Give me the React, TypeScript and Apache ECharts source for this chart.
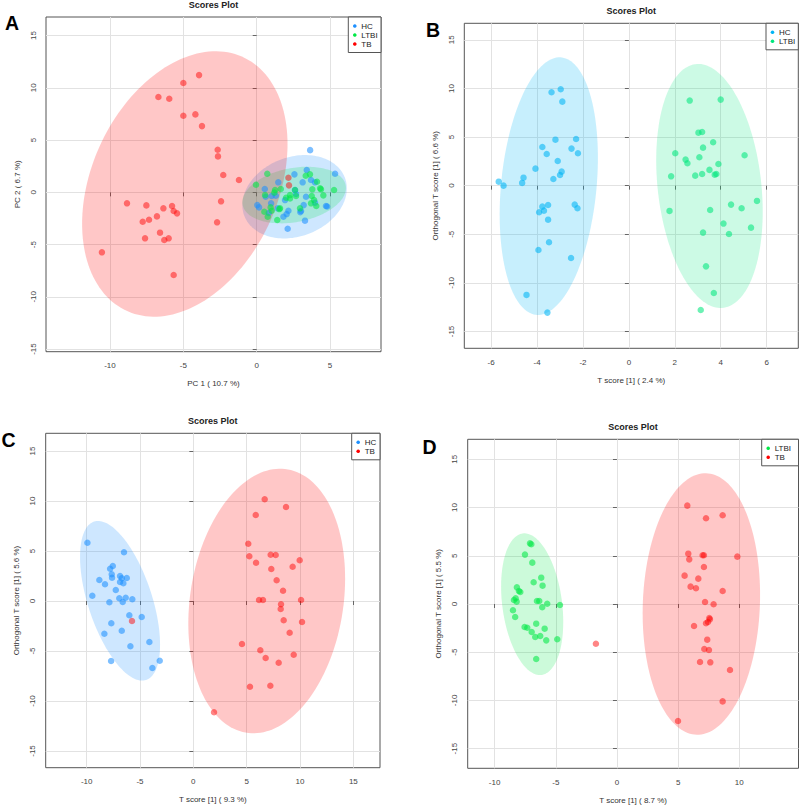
import React, { useEffect, useRef } from "react";
import * as echarts from "echarts";

const FONT = '"Liberation Sans", Arial, Helvetica, sans-serif';

// ---------- Panel A (PCA) ----------
const hcA = [[3.64,4.04],[3.41,2.13],[2.57,1.72],[5.34,1.78],[1.47,0.96],[3.13,0.96],[3.7,1.18],[3.97,0.96],[0.55,0.32],[2.61,0.22],[2.68,-0.16],[3.36,-0.42],[1.02,-0.35],[1.93,-0.74],[0.98,-1.05],[0.04,-1.22],[0.16,-1.44],[3.97,-0.99],[3.2,-1.22],[4.72,-1.31],[4.8,-1.35],[1.43,-1.53],[2.16,-1.76],[3.02,-1.79],[2.04,-2.08],[1.82,-2.33],[3.29,-2.71],[2.11,-3.48],[0.61,-0.42],[1.3,-0.33],[0.82,-1.98],[2.97,-1.89]];
const ltbiA = [[0.72,1.78],[-0.05,0.73],[1.64,0.32],[1.25,0.22],[3.34,1.59],[3.63,1.72],[4.11,1.01],[3.79,0.29],[4.38,0.29],[4.54,-0.29],[5.27,0.22],[0.57,-0.26],[2.27,-0.26],[3.75,-0.35],[3.91,-0.74],[3.7,-1.05],[4.06,-1.31],[1.02,-1.76],[1.59,-1.53],[0.52,-1.86],[0.75,-2.33],[2.95,-1.53],[1.4,-2.65],[1.2,-0.03],[2.61,0.22],[2.68,-0.35],[4.32,0.38],[2.27,-0.58],[1.54,-1.6],[0.95,-1.44],[2.0,-0.52]];
const tbA = [[-3.93,11.22],[-5.0,10.46],[-6.7,9.12],[-5.96,8.96],[-5.0,7.33],[-4.18,7.46],[-3.73,6.34],[-2.66,4.08],[-2.64,3.44],[-2.28,1.66],[-1.21,1.18],[2.16,1.4],[2.2,0.67],[-2.43,-0.86],[-8.84,-1.05],[-7.52,-1.25],[-5.77,-1.31],[-6.36,-1.53],[-5.66,-1.79],[-5.43,-2.01],[-6.8,-2.3],[-7.34,-2.62],[-7.77,-2.81],[-2.7,-2.87],[-6.59,-3.86],[-7.61,-4.4],[-6.0,-4.4],[-6.3,-4.56],[-10.55,-5.74],[-5.66,-7.91]];
// ellipse: [centerX, centerY, halfWidth, halfHeight, correlation]
const ellA_HC = [2.58, -0.42, 3.56, 3.99, 0.2];
const ellA_LTBI = [2.55, -0.26, 3.53, 2.71, 0.25];
const ellA_TB = [-4.9, 0.8, 7.0, 12.7, 0.3];

// ---------- Panel B (HC vs LTBI) ----------
const hcB = [[-3.37,9.61],[-2.97,9.92],[-2.9,8.64],[-3.77,3.98],[-3.2,4.73],[-2.3,4.8],[-3.58,3.26],[-2.5,3.81],[-2.22,3.33],[-3.1,2.54],[-4.07,1.75],[-2.93,1.44],[-3.0,1.1],[-3.29,0.69],[-4.59,0.82],[-4.65,0.28],[-5.67,0.41],[-5.46,0.0],[-3.77,-2.16],[-3.52,-1.99],[-3.91,-2.74],[-3.7,-2.57],[-2.36,-1.95],[-2.24,-2.33],[-3.52,-3.5],[-3.48,-5.82],[-3.94,-6.62],[-2.52,-7.44],[-4.46,-11.24],[-3.55,-13.06]];
const ltbiB = [[2.65,8.75],[4.0,8.85],[3.03,5.45],[3.19,5.52],[3.67,4.46],[3.23,3.91],[2.02,3.33],[2.47,2.68],[2.55,2.3],[3.07,2.92],[3.9,2.23],[5.04,3.13],[3.51,1.62],[3.19,1.2],[2.89,1.03],[3.74,1.13],[3.81,1.2],[1.84,0.96],[5.58,-1.57],[1.77,-2.6],[3.54,-2.5],[4.45,-1.95],[4.91,-2.33],[4.12,-3.9],[3.23,-4.83],[4.36,-4.97],[5.32,-4.32],[3.36,-8.3],[3.7,-11.04],[3.13,-12.79]];
const ellB_HC = [-3.49, -0.05, 2.14, 13.25, 0.22];
const ellB_LTBI = [3.51, -0.03, 2.32, 12.55, -0.21];

// ---------- Panel C (HC vs TB) ----------
const hcC = [[-9.93,5.83],[-6.5,4.87],[-7.55,3.5],[-7.8,3.23],[-7.65,2.67],[-7.62,2.33],[-6.87,2.5],[-6.71,2.27],[-6.24,2.3],[-8.81,2.1],[-8.28,1.67],[-6.87,1.9],[-6.56,1.77],[-7.27,1.1],[-9.47,0.53],[-6.94,0.27],[-6.34,0.33],[-5.72,0.17],[-7.87,-0.13],[-6.62,-0.1],[-6.0,-1.43],[-4.84,-1.6],[-7.69,-2.23],[-6.71,-2.97],[-8.34,-3.27],[-4.12,-4.1],[-5.9,-4.53],[-7.71,-6.0],[-3.15,-5.97],[-3.84,-6.7]];
const tbC = [[6.69,10.17],[8.69,9.4],[5.85,8.6],[5.15,5.73],[5.25,4.47],[7.25,4.63],[7.72,4.6],[5.88,3.83],[9.97,4.07],[9.31,3.43],[7.31,3.2],[7.81,2.07],[8.41,1.03],[6.16,0.1],[6.53,0.1],[10.1,0.1],[8.22,-0.33],[8.19,-0.8],[8.47,-1.93],[10.19,-2.1],[9.03,-3.17],[4.56,-4.3],[6.28,-4.93],[9.41,-5.37],[6.78,-5.7],[8.0,-6.17],[5.31,-8.57],[7.22,-8.47],[1.94,-11.13],[-5.75,-2.0]];
const ellC_HC = [-6.87, 0.02, 3.75, 7.98, -0.55];
const ellC_TB = [6.88, 0.0, 7.35, 13.23, 0.17];

// ---------- Panel D (LTBI vs TB) ----------
const ltbiD = [[-7.11,6.29],[-7.0,6.2],[-7.52,5.12],[-6.92,4.29],[-6.19,2.73],[-6.81,2.25],[-6.08,1.9],[-8.18,1.73],[-8.01,1.35],[-7.9,1.24],[-8.28,0.59],[-8.42,0.41],[-8.2,0.24],[-6.54,0.31],[-6.35,0.31],[-5.7,0.03],[-6.11,-0.34],[-4.66,-0.1],[-8.5,-0.65],[-8.32,-1.35],[-7.55,-2.39],[-7.33,-2.46],[-6.6,-2.04],[-5.91,-2.56],[-6.97,-2.9],[-6.68,-3.42],[-6.27,-3.32],[-5.78,-3.77],[-4.88,-3.66],[-6.6,-5.7]];
const tbD = [[5.75,10.2],[7.28,8.89],[8.64,9.2],[5.83,5.22],[5.91,4.63],[7.0,5.05],[7.11,5.05],[9.84,4.91],[7.11,3.84],[5.53,2.94],[6.65,2.63],[6.02,1.8],[6.46,1.63],[8.64,1.35],[7.2,0.21],[7.9,-0.03],[7.55,-1.45],[7.6,-1.59],[7.44,-1.87],[7.28,-2.0],[6.3,-2.28],[7.38,-3.7],[7.14,-4.67],[7.52,-4.77],[6.79,-6.02],[7.63,-6.05],[9.24,-6.85],[8.64,-10.1],[4.99,-12.14],[-1.72,-4.12]];
const ellD_LTBI = [-6.93, -0.02, 2.54, 7.35, -0.25];
const ellD_TB = [6.9, 0.0, 4.8, 13.56, 0.07];

// ---------- Axis ticks & labels ----------
const yTicks = [-15, -10, -5, 0, 5, 10, 15];
const xTicksA = [-10, -5, 0, 5];
const xTicksB = [-6, -4, -2, 0, 2, 4, 6];
const xTicksC = [-10, -5, 0, 5, 10, 15];
const xTicksD = [-10, -5, 0, 5, 10];
const xNames = ["PC 1 ( 10.7 %)", "T score [1] ( 2.4 %)", "T score [1] ( 9.3 %)", "T score [1] ( 8.7 %)"];
const yNames = ["PC 2 ( 6.7 %)", "Orthogonal T score [1] ( 6.6 %)", "Orthogonal T score [1] ( 5.6 %)", "Orthogonal T score [1] ( 5.5 %)"];
const panelLetters = ["A", "B", "C", "D"];
const titleText = "Scores Plot";

// colours
const C3 = {
  HC: { dot: "rgba(30,144,255,0.72)", fill: "rgba(30,144,255,0.22)", key: "#1E90FF" },
  LTBI: { dot: "rgba(0,232,70,0.72)", fill: "rgba(0,232,70,0.2)", key: "#00E846" },
  TB: { dot: "rgba(255,0,0,0.6)", fill: "rgba(255,0,0,0.22)", key: "#FF0000" },
};
const C2 = {
  HC: { dot: "rgba(0,180,245,0.72)", fill: "rgba(0,180,245,0.22)", key: "#00B4F5" },
  LTBI: { dot: "rgba(0,230,125,0.72)", fill: "rgba(0,230,125,0.2)", key: "#00E67D" },
};

const panels = [
  {
    grid: { left: 46, top: 17, width: 335, height: 334.7 },
    xr: [-14.36, 8.47], yr: [-15.25, 16.78], xt: xTicksA,
    groups: [
      { name: "HC", pts: hcA, ell: ellA_HC, c: C3.HC },
      { name: "LTBI", pts: ltbiA, ell: ellA_LTBI, c: C3.LTBI },
      { name: "TB", pts: tbA, ell: ellA_TB, c: C3.TB },
    ],
    letter: [12, 23], legW: 32.7,
  },
  {
    grid: { left: 464.3, top: 23.3, width: 334, height: 325 },
    xr: [-7.17, 7.38], yr: [-16.73, 16.7], xt: xTicksB,
    groups: [
      { name: "HC", pts: hcB, ell: ellB_HC, c: C2.HC },
      { name: "LTBI", pts: ltbiB, ell: ellB_LTBI, c: C2.LTBI },
    ],
    letter: [433, 30], legW: 32.3,
  },
  {
    grid: { left: 45.7, top: 433.3, width: 334.3, height: 334.4 },
    xr: [-13.84, 17.5], yr: [-16.67, 16.77], xt: xTicksC,
    groups: [
      { name: "HC", pts: hcC, ell: ellC_HC, c: C3.HC },
      { name: "TB", pts: tbC, ell: ellC_TB, c: C3.TB },
    ],
    letter: [8.5, 440], legW: 28.3,
  },
  {
    grid: { left: 467.7, top: 439.3, width: 330.8, height: 329 },
    xr: [-12.2, 14.84], yr: [-17.04, 17.08], xt: xTicksD,
    groups: [
      { name: "LTBI", pts: ltbiD, ell: ellD_LTBI, c: C3.LTBI },
      { name: "TB", pts: tbD, ell: ellD_TB, c: C3.TB },
    ],
    letter: [429.5, 447], legW: 36.8,
  },
];

function ellipseRender(fill: string) {
  return (params: any, api: any) => {
    const cx = api.value(0), cy = api.value(1), rx = api.value(2), ry = api.value(3), rho = api.value(4);
    const s = Math.sqrt(1 - rho * rho);
    const pts: number[][] = [];
    const n = 160;
    for (let i = 0; i < n; i++) {
      const t = (i / n) * Math.PI * 2;
      pts.push(api.coord([cx + rx * Math.cos(t), cy + ry * (rho * Math.cos(t) + s * Math.sin(t))]));
    }
    return { type: "polygon", shape: { points: pts }, style: { fill, stroke: "none" } };
  };
}

export default function App() {
  const ref = useRef<HTMLDivElement>(null);
  useEffect(() => {
    const chart = echarts.init(ref.current!, null, { renderer: "svg" });
    const grids: any[] = [];
    const xAxes: any[] = [];
    const yAxes: any[] = [];
    const series: any[] = [];
    const graphics: any[] = [];

    panels.forEach((p, i) => {
      grids.push({ ...p.grid, show: true, borderColor: "#555", borderWidth: 1, backgroundColor: "transparent" });
      const common = {
        gridIndex: i,
        type: "value",
        axisLine: { show: false },
        axisTick: { show: true, length: 4, inside: false, lineStyle: { color: "#666" } },
        splitLine: { show: true, lineStyle: { color: "#e2e2e2", width: 1 } },
        nameLocation: "middle",
        nameTextStyle: { fontFamily: FONT, fontSize: 8, color: "#333" },
      };
      xAxes.push({
        ...common,
        min: p.xr[0], max: p.xr[1],
        axisTick: { ...common.axisTick, customValues: p.xt },
        axisLabel: { customValues: p.xt, fontFamily: FONT, fontSize: 8, color: "#444", margin: 10 },
        name: xNames[i], nameGap: 28,
      });
      yAxes.push({
        ...common,
        min: p.yr[0], max: p.yr[1],
        axisTick: { ...common.axisTick, customValues: yTicks },
        axisLabel: { customValues: yTicks, fontFamily: FONT, fontSize: 8, color: "#444", margin: 9, rotate: 90 },
        name: yNames[i], nameGap: 25,
      });
      p.groups.forEach((g) => {
        series.push({
          type: "custom",
          name: g.name + "-ellipse" + i,
          xAxisIndex: i, yAxisIndex: i,
          data: [g.ell],
          dimensions: ["cx", "cy", "rx", "ry", "rho"],
          encode: { x: 0, y: 1 },
          renderItem: ellipseRender(g.c.fill),
          z: 1,
          silent: true,
        });
      });
      p.groups.forEach((g) => {
        series.push({
          type: "scatter",
          name: g.name,
          xAxisIndex: i, yAxisIndex: i,
          data: g.pts,
          symbolSize: 6.5,
          itemStyle: { color: g.c.dot },
          z: 3,
        });
      });

      // title
      const gx = p.grid.left, gy = p.grid.top, gw = p.grid.width;
      graphics.push({
        type: "text",
        x: gx + gw / 2, y: gy - 12.5,
        style: { text: titleText, fill: "#222", fontFamily: FONT, fontSize: 9, fontWeight: "bold", textAlign: "center", textVerticalAlign: "middle", align: "center", verticalAlign: "middle" },
        z: 10,
      });
      // panel letter
      graphics.push({
        type: "text",
        x: p.letter[0], y: p.letter[1],
        style: { text: panelLetters[i], fill: "#000", fontFamily: FONT, fontSize: 19.5, fontWeight: "bold", textAlign: "center", textVerticalAlign: "middle", align: "center", verticalAlign: "middle" },
        z: 10,
      });
      // legend box
      const n = p.groups.length;
      const lw = p.legW;
      const lh = n * 9 + 8.5;
      const lx = gx + gw - lw;
      graphics.push({
        type: "rect",
        shape: { x: lx, y: gy, width: lw, height: lh },
        style: { fill: "#fff", stroke: "#555", lineWidth: 1 },
        z: 10,
      });
      p.groups.forEach((g, k) => {
        const yy = gy + 9 + k * 9;
        graphics.push({ type: "circle", shape: { cx: lx + 6.5, cy: yy, r: 1.8 }, style: { fill: g.c.key }, z: 11 });
        graphics.push({
          type: "text", x: lx + 13, y: yy,
          style: { text: g.name, fill: "#222", fontFamily: FONT, fontSize: 8, textAlign: "left", textVerticalAlign: "middle", align: "left", verticalAlign: "middle" },
          z: 11,
        });
      });
    });

    chart.setOption({
      animation: false,
      backgroundColor: "#fff",
      grid: grids,
      xAxis: xAxes,
      yAxis: yAxes,
      series,
      graphic: graphics,
    });
    return () => chart.dispose();
  }, []);
  return <div ref={ref} style={{ position: "fixed", left: 0, top: 0, width: 800, height: 806 }} />;
}
